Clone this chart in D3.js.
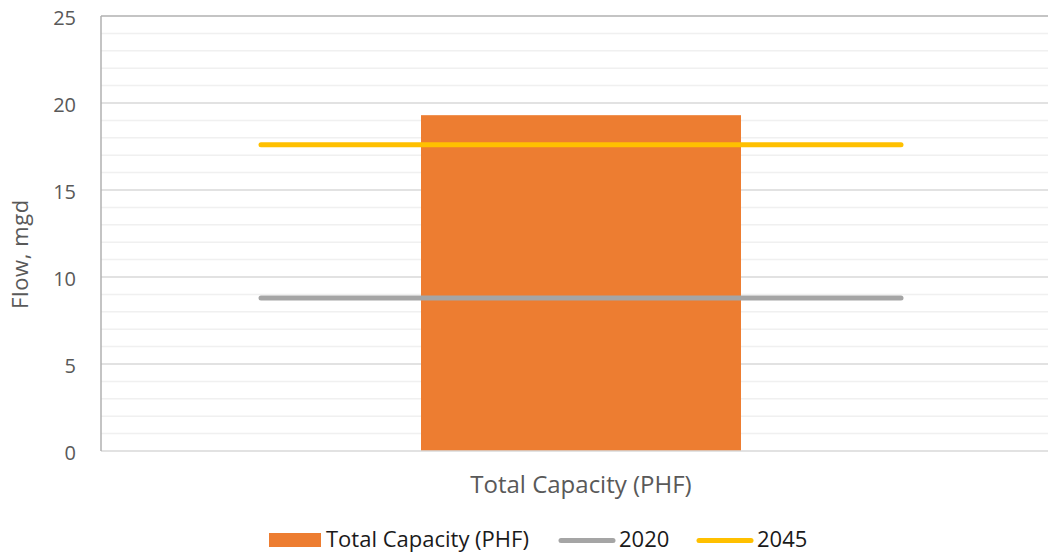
<!DOCTYPE html>
<html><head><meta charset="utf-8">
<script src="https://cdn.jsdelivr.net/npm/d3@7"></script>
<style>body{margin:0;background:#fff}svg{display:block}text{font-family:"Open Sans",Lato,sans-serif}</style>
</head><body><svg id="c" width="1048" height="555"></svg>
<script>
const categories = ["Total Capacity (PHF)"];
const capacity = [19.3];
const lineSeries = [{name:"2020", value:8.8, color:"#A5A5A5"},{name:"2045", value:17.6, color:"#FFC000"}];
const yTicks = [0,5,10,15,20,25];
const minorTicks = d3.range(0,26,1);

const svg = d3.select("#c");
const L=101, R=1061, T=16, B=451;
const x = d3.scaleBand().domain(categories).range([L,R]);
const y = d3.scaleLinear().domain([0,25]).range([B,T]);

svg.append("g").selectAll("line").data(minorTicks.filter(d=>d%5!==0)).join("line")
  .attr("x1",L).attr("x2",R).attr("y1",d=>y(d)).attr("y2",d=>y(d))
  .attr("stroke","#f0f0f0").attr("stroke-width",1.5);
svg.append("g").selectAll("line").data(yTicks.filter(d=>d>0&&d<25)).join("line")
  .attr("x1",L).attr("x2",R).attr("y1",d=>y(d)).attr("y2",d=>y(d))
  .attr("stroke","#d9d9d9").attr("stroke-width",1.5);
svg.append("line").attr("x1",L).attr("x2",R).attr("y1",y(25)).attr("y2",y(25)).attr("stroke","#b0b0b0").attr("stroke-width",1.5);

const bw = x.bandwidth()/3;
svg.append("g").selectAll("rect").data(categories).join("rect")
  .attr("x",d=>x(d)+x.bandwidth()/2-bw/2).attr("width",bw)
  .attr("y",(d,i)=>y(capacity[i])).attr("height",(d,i)=>B-y(capacity[i]))
  .attr("fill","#ED7D31");

svg.append("line").attr("x1",L).attr("x2",R).attr("y1",B).attr("y2",B).attr("stroke","#d9d9d9").attr("stroke-width",1.5);
svg.append("line").attr("x1",L).attr("x2",L).attr("y1",T).attr("y2",B).attr("stroke","#b0b0b0").attr("stroke-width",1.5);

const lx1 = L + x.bandwidth()/6, lx2 = L + x.bandwidth()*5/6;
svg.append("g").selectAll("line").data(lineSeries).join("line")
  .attr("x1",lx1).attr("x2",lx2).attr("y1",d=>y(d.value)).attr("y2",d=>y(d.value))
  .attr("stroke",d=>d.color).attr("stroke-width",5).attr("stroke-linecap","round");

svg.append("g").selectAll("text").data(yTicks).join("text")
  .attr("x",76).attr("y",d=>y(d)+9).attr("text-anchor","end")
  .attr("font-size",20).attr("fill","#595959").text(d=>d);

svg.append("g").selectAll("text").data(categories).join("text")
  .attr("x",d=>x(d)+x.bandwidth()/2).attr("y",493).attr("text-anchor","middle")
  .attr("font-size",24).attr("fill","#595959").text(d=>d);

svg.append("text").attr("transform","translate(28,254) rotate(-90)").attr("text-anchor","middle")
  .attr("font-size",22).attr("letter-spacing",0.6).attr("fill","#595959").text("Flow, mgd");

const lg = svg.append("g");
lg.append("rect").attr("x",269).attr("y",533).attr("width",52).attr("height",14).attr("fill","#ED7D31");
lg.append("text").attr("x",326).attr("y",547).attr("font-size",22).attr("fill","#1a1a1a").text(categories[0]);
const legPos=[{x1:561,x2:613,tx:619},{x1:699,x2:751,tx:757}];
lineSeries.forEach((s,i)=>{
  lg.append("line").attr("x1",legPos[i].x1).attr("x2",legPos[i].x2).attr("y1",540.5).attr("y2",540.5)
    .attr("stroke",s.color).attr("stroke-width",5).attr("stroke-linecap","round");
  lg.append("text").attr("x",legPos[i].tx).attr("y",547).attr("font-size",22).attr("fill","#1a1a1a").text(s.name);
});
</script></body></html>
